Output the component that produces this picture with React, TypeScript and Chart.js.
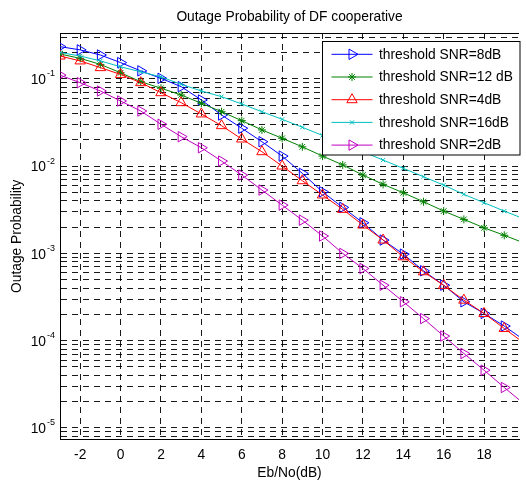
import React, { useEffect, useRef } from 'react';
import { Chart, registerables } from 'chart.js';
import { drawPoint } from 'chart.js/helpers';

Chart.register(...registerables);

const FONT = "'Liberation Sans', Arial, Helvetica, sans-serif";

// ---- data ----
const snrDb = [-3, -2, -1, 0, 1, 2, 3, 4, 5, 6, 7, 8, 9, 10, 11, 12, 13, 14, 15, 16, 17, 18, 19, 20];

const outage8dB = [0.233, 0.214, 0.187, 0.153, 0.123, 0.101, 0.0811, 0.0571, 0.0384, 0.0271, 0.019, 0.013,
  0.00824, 0.00507, 0.00336, 0.00224, 0.00142, 0.00098, 0.000631, 0.000432, 0.000279, 0.000205, 0.000147, 0.000101];
const outage12dB = [0.192, 0.171, 0.146, 0.117, 0.0925, 0.0778, 0.0652, 0.0523, 0.0419, 0.0331, 0.0259, 0.0208,
  0.0166, 0.013, 0.0103, 0.00788, 0.00617, 0.00494, 0.0039, 0.00305, 0.00245, 0.00196, 0.00161, 0.00131];
const outage4dB = [0.182, 0.16, 0.134, 0.112, 0.0901, 0.0692, 0.0532, 0.0395, 0.029, 0.0204, 0.0146, 0.01,
  0.00679, 0.00466, 0.00319, 0.00211, 0.00142, 0.000913, 0.000615, 0.00043, 0.000291, 0.000205, 0.000138, 0.000093];
const outage16dB = [0.2, 0.182, 0.16, 0.137, 0.12, 0.105, 0.0863, 0.0724, 0.0623, 0.0514, 0.0419, 0.0343,
  0.0278, 0.0224, 0.018, 0.0146, 0.0117, 0.00941, 0.00754, 0.00605, 0.00474, 0.0038, 0.00305, 0.00247];
const outage2dB = [0.11, 0.09, 0.0724, 0.0556, 0.0427, 0.0301, 0.0217, 0.0162, 0.0114, 0.00788, 0.00531, 0.00357,
  0.0024, 0.00158, 0.000998, 0.000671, 0.000432, 0.000279, 0.000179, 0.000113, 0.0000713, 0.0000459, 0.0000291, 0.0000187];

const seriesLabels = ['threshold SNR=8dB', 'threshold SNR=12 dB', 'threshold SNR=4dB', 'threshold SNR=16dB', 'threshold SNR=2dB'];
const seriesValues = [outage8dB, outage12dB, outage4dB, outage16dB, outage2dB];

const xTickValues = [-2, 0, 2, 4, 6, 8, 10, 12, 14, 16, 18];
const yDecadeExponents = [-5, -4, -3, -2, -1];

const titleText = 'Outage Probability of DF cooperative';
const xTitle = 'Eb/No(dB)';
const yTitle = 'Outage Probability';

const X_MIN = -3;
const X_MAX = 19.73;
const Y_MIN = 7.38e-6;
const Y_MAX = 0.334;

// ---- styles ----
const FS = 13.8;
const seriesStyles = [
  { color: '#0000ff', pointStyle: 'triangle', rotation: 90, radius: 6 },
  { color: '#008000', pointStyle: 'star', rotation: 0, radius: 4 },
  { color: '#ff0000', pointStyle: 'triangle', rotation: 0, radius: 6 },
  { color: '#00bfbf', pointStyle: 'crossRot', rotation: 0, radius: 3 },
  { color: '#bf00bf', pointStyle: 'triangle', rotation: 90, radius: 6 },
];

const yGridValues: number[] = [];
for (let e = -6; e <= 0; e++) {
  for (let m = 1; m <= 9; m++) {
    const v = m * Math.pow(10, e);
    if (v > Y_MIN && v < Y_MAX) yGridValues.push(v);
  }
}

const GRID_DASH = [6, 5];

const decorPlugin = {
  id: 'matlabDecor',
  afterDraw(chart: any) {
    const { ctx, chartArea, scales } = chart;
    const ys = scales.y;
    ctx.save();
    ctx.setLineDash([]);
    ctx.strokeStyle = '#000';
    ctx.lineWidth = 1;
    const top = Math.round(chartArea.top) + 0.5;
    ctx.beginPath();
    ctx.moveTo(chartArea.left, top);
    ctx.lineTo(chartArea.right, top);
    ctx.stroke();

    // y tick labels 10^e
    ctx.fillStyle = '#000';
    for (const e of yDecadeExponents) {
      const py = ys.getPixelForValue(Math.pow(10, e));
      ctx.font = `${FS}px ${FONT}`;
      ctx.textAlign = 'right';
      ctx.textBaseline = 'middle';
      ctx.fillText('10', chartArea.left - 14, py + 1.5);
      ctx.font = `9px ${FONT}`;
      ctx.textAlign = 'left';
      ctx.fillText(String(e), chartArea.left - 13, py - 5);
    }

    // legend
    const bx = 322.5, by = 41.5, bw = 197.5, bh = 113.5;
    ctx.fillStyle = '#fff';
    ctx.fillRect(bx, by, bw, bh);
    ctx.strokeStyle = '#000';
    ctx.lineWidth = 1;
    ctx.strokeRect(bx, by, bw, bh);
    for (let i = 0; i < seriesLabels.length; i++) {
      const st = seriesStyles[i];
      const ry = 54.3 + i * 22.7;
      ctx.strokeStyle = st.color;
      ctx.lineWidth = 1;
      ctx.beginPath();
      ctx.moveTo(331.5, ry);
      ctx.lineTo(372.5, ry);
      ctx.stroke();
      ctx.fillStyle = 'rgba(0,0,0,0)';
      drawPoint(ctx, { pointStyle: st.pointStyle, rotation: st.rotation, radius: st.radius, borderWidth: 1 } as any, 352, ry);
      ctx.fillStyle = '#000';
      ctx.font = `${FS}px ${FONT}`;
      ctx.textAlign = 'left';
      ctx.textBaseline = 'middle';
      ctx.fillText(seriesLabels[i], 379, ry + 0.5);
    }
    ctx.restore();
  },
};

export default function App() {
  const canvasRef = useRef<HTMLCanvasElement | null>(null);

  useEffect(() => {
    if (!canvasRef.current) return;
    const datasets = seriesValues.map((vals, i) => ({
      label: seriesLabels[i],
      data: snrDb.map((x, j) => ({ x, y: vals[j] })),
      borderColor: seriesStyles[i].color,
      backgroundColor: 'rgba(0,0,0,0)',
      borderWidth: 1,
      pointStyle: seriesStyles[i].pointStyle,
      pointRotation: seriesStyles[i].rotation,
      pointRadius: seriesStyles[i].radius,
      pointBorderWidth: 1,
      pointBorderColor: seriesStyles[i].color,
      pointBackgroundColor: 'rgba(0,0,0,0)',
      fill: false,
      tension: 0,
      order: 5 - i,
    }));

    const chart = new Chart(canvasRef.current, {
      type: 'line',
      data: { datasets },
      plugins: [decorPlugin],
      options: {
        animation: false,
        responsive: false,
        devicePixelRatio: 1,
        layout: { padding: 0 },
        plugins: {
          legend: { display: false },
          tooltip: { enabled: false },
          title: {
            display: true,
            text: titleText,
            fullSize: false,
            color: '#000',
            font: { family: FONT, size: FS, weight: 'normal' },
            padding: { top: 9, bottom: 7.44 },
          },
        },
        scales: {
          x: {
            type: 'linear',
            min: X_MIN,
            max: X_MAX,
            afterBuildTicks: (s: any) => { s.ticks = xTickValues.map((v) => ({ value: v })); },
            afterFit: (s: any) => { s.height = 44.5; },
            ticks: { color: '#000', font: { family: FONT, size: FS }, padding: 7, autoSkip: false, maxRotation: 0, callback: (v: any) => String(v) },
            grid: { color: 'rgba(0,0,0,0.9)', lineWidth: 1, drawTicks: false },
            border: { display: true, color: '#000', width: 1, dash: GRID_DASH },
            title: { display: true, text: xTitle, color: '#000', font: { family: FONT, size: FS }, padding: { top: 0, bottom: 2.5 } },
          },
          y: {
            type: 'logarithmic',
            min: Y_MIN,
            max: Y_MAX,
            afterBuildTicks: (s: any) => { s.ticks = yGridValues.map((v) => ({ value: v })); },
            afterFit: (s: any) => { s.width = 60; },
            ticks: { display: false },
            grid: { color: 'rgba(0,0,0,0.9)', lineWidth: 1, drawTicks: false },
            border: { display: true, color: '#000', width: 1, dash: GRID_DASH },
            title: { display: true, text: yTitle, color: '#000', font: { family: FONT, size: FS }, padding: { top: 8.5, bottom: 0 } },
          },
        },
      },
    } as any);
    return () => chart.destroy();
  }, []);

  return (
    <div style={{ position: 'fixed', left: 0, top: 0, width: 526, height: 484, overflow: 'hidden', background: '#fff' }}>
      <canvas ref={canvasRef} width={526} height={484} style={{ display: 'block', width: 526, height: 484 }} />
    </div>
  );
}
